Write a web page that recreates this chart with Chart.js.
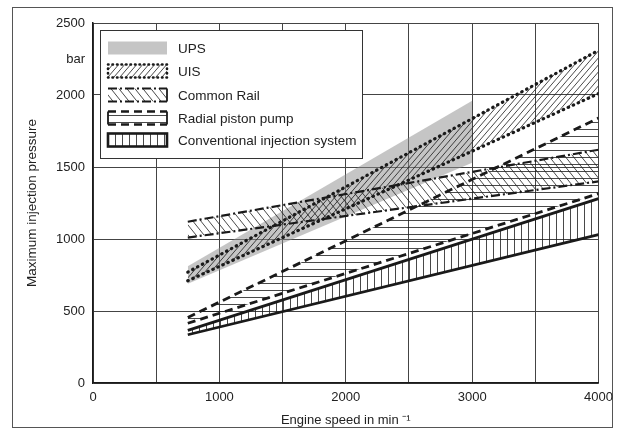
<!DOCTYPE html>
<html>
<head>
<meta charset="utf-8">
<script src="https://cdn.jsdelivr.net/npm/chart.js@4.4.0/dist/chart.umd.min.js"></script>
<style>
  html, body { margin: 0; padding: 0; background: #fff; }
  #wrap { width: 620px; height: 433px; }
</style>
</head>
<body>
<div id="wrap"><canvas id="pressureChart" width="620" height="433"></canvas></div>
<script>
// engine speed (min^-1) where the bands start and end
const bandSpeed = [750, 4000];
const upsSpeed = [750, 3000];

// maximum injection pressure (bar), lower and upper edge of each band
const upsLow = [690, 1530];
const upsHigh = [810, 1960];
const uisLow = [710, 2010];
const uisHigh = [770, 2310];
const crLow = [1010, 1400];
const crHigh = [1120, 1620];
const rppLow = [415, 1315];
const rppHigh = [455, 1840];
const convLow = [335, 1030];
const convHigh = [365, 1280];

const xTicks = [0, 1000, 2000, 3000, 4000];
const yTicks = [0, 500, 1000, 1500, 2000, 2500];
const unitLabel = 'bar';
const unitValue = 2250;

const legendNames = ['UPS', 'UIS', 'Common Rail', 'Radial piston pump', 'Conventional injection system'];

const ink = '#1a1a1a';
const hatchInk = 'rgba(30,30,30,0.9)';
const upsGray = 'rgba(140,140,140,0.5)';

function makeHatch(kind, w, h) {
  const c = document.createElement('canvas');
  c.width = w; c.height = h;
  const g = c.getContext('2d');
  g.strokeStyle = hatchInk;
  g.lineWidth = 0.9;
  g.beginPath();
  if (kind === 'h') {
    g.moveTo(0, h / 2); g.lineTo(w, h / 2);
  } else if (kind === 'v') {
    g.moveTo(w / 2, 0); g.lineTo(w / 2, h);
  } else {
    for (let k = -1; k <= 1; k++) {
      if (kind === '/') {
        g.moveTo(k * w - w, 2 * h); g.lineTo(k * w + 2 * w, -h);
      } else {
        g.moveTo(k * w - w, -h); g.lineTo(k * w + 2 * w, 2 * h);
      }
    }
  }
  g.stroke();
  return g.createPattern(c, 'repeat');
}

const uisHatch = makeHatch('/', 6, 7);
const crHatch = makeHatch('\\', 8, 10);
const rppHatch = makeHatch('h', 8, 7);
const convHatch = makeHatch('v', 7, 8);

function pts(xs, ys) {
  return xs.map((x, i) => ({ x: x, y: ys[i] }));
}

const styles = {
  uis: { dash: [0.5, 5], width: 3.2, cap: 'round' },
  cr: { dash: [9, 3, 2, 3], width: 2.2, cap: 'butt' },
  rpp: { dash: [8, 5], width: 2.8, cap: 'butt' },
  conv: { dash: [], width: 2.8, cap: 'butt' }
};

function edge(label, xs, ys, st, fill, bg) {
  return {
    label: label,
    data: pts(xs, ys),
    borderColor: st ? ink : 'rgba(0,0,0,0)',
    borderWidth: st ? st.width : 0,
    borderDash: st ? st.dash : [],
    borderCapStyle: st ? st.cap : 'butt',
    backgroundColor: bg || 'rgba(0,0,0,0)',
    fill: fill,
    pointRadius: 0,
    tension: 0
  };
}

const datasets = [
  edge('Conventional low', bandSpeed, convLow, styles.conv, false),
  edge('Conventional injection system', bandSpeed, convHigh, styles.conv, '-1', convHatch),
  edge('Radial low', bandSpeed, rppLow, styles.rpp, false),
  edge('Radial piston pump', bandSpeed, rppHigh, styles.rpp, '-1', rppHatch),
  edge('CR low', bandSpeed, crLow, styles.cr, false),
  edge('Common Rail', bandSpeed, crHigh, styles.cr, '-1', crHatch),
  edge('UIS low', bandSpeed, uisLow, styles.uis, false),
  edge('UIS', bandSpeed, uisHigh, styles.uis, '-1', uisHatch),
  edge('UPS low', upsSpeed, upsLow, null, false),
  edge('UPS', upsSpeed, upsHigh, null, '-1', upsGray)
];

const frameAndLegend = {
  id: 'frameAndLegend',
  beforeDraw(chart) {
    const ctx = chart.ctx;
    ctx.save();
    ctx.fillStyle = '#fff';
    ctx.fillRect(0, 0, chart.width, chart.height);
    ctx.strokeStyle = '#555';
    ctx.lineWidth = 1;
    ctx.strokeRect(12.5, 7.5, 600, 420);
    ctx.restore();
  },
  afterDraw(chart) {
    const ctx = chart.ctx;
    ctx.save();
    // legend box
    ctx.fillStyle = '#fff';
    ctx.fillRect(100, 30, 262, 128);
    ctx.strokeStyle = '#333';
    ctx.lineWidth = 1;
    ctx.strokeRect(100.5, 30.5, 262, 128);

    const sx = 108, sw = 59, sh = 13;
    const rows = [48, 71, 95, 118, 140];
    rows.forEach((cy, i) => {
      const top = cy - sh / 2;
      ctx.save();
      ctx.strokeStyle = ink;
      if (i === 0) {
        ctx.fillStyle = upsGray;
        ctx.fillRect(sx, top, sw, sh);
      } else if (i === 1) {
        ctx.fillStyle = uisHatch;
        ctx.fillRect(sx, top, sw, sh);
        ctx.lineWidth = 2.6; ctx.setLineDash([0.5, 4]); ctx.lineCap = 'round';
        ctx.strokeRect(sx, top, sw, sh);
      } else if (i === 2) {
        ctx.fillStyle = crHatch;
        ctx.fillRect(sx, top, sw, sh);
        ctx.lineWidth = 2.2; ctx.setLineDash(styles.cr.dash);
        ctx.beginPath();
        ctx.moveTo(sx, top); ctx.lineTo(sx + sw, top);
        ctx.moveTo(sx, top + sh); ctx.lineTo(sx + sw, top + sh);
        ctx.stroke();
        ctx.setLineDash([]); ctx.lineWidth = 1.8;
        ctx.beginPath(); ctx.moveTo(sx + sw, top); ctx.lineTo(sx + sw, top + sh); ctx.stroke();
      } else if (i === 3) {
        ctx.fillStyle = rppHatch;
        ctx.fillRect(sx, top, sw, sh);
        ctx.lineWidth = 2.6; ctx.setLineDash(styles.rpp.dash);
        ctx.beginPath();
        ctx.moveTo(sx, top); ctx.lineTo(sx + sw, top);
        ctx.moveTo(sx, top + sh); ctx.lineTo(sx + sw, top + sh);
        ctx.stroke();
        ctx.setLineDash([]); ctx.lineWidth = 1.8;
        ctx.beginPath();
        ctx.moveTo(sx, top); ctx.lineTo(sx, top + sh);
        ctx.moveTo(sx + sw, top); ctx.lineTo(sx + sw, top + sh);
        ctx.stroke();
      } else {
        ctx.fillStyle = convHatch;
        ctx.fillRect(sx, top, sw, sh);
        ctx.lineWidth = 2.6;
        ctx.strokeRect(sx, top, sw, sh);
      }
      ctx.restore();
      ctx.fillStyle = '#222';
      ctx.font = '13.5px Arial, "Liberation Sans", sans-serif';
      ctx.textBaseline = 'middle';
      ctx.fillText(legendNames[i], 178, cy + 1);
    });
    ctx.restore();
  }
};

const tickFont = { family: 'Arial, "Liberation Sans", sans-serif', size: 13 };

new Chart(document.getElementById('pressureChart'), {
  type: 'line',
  data: { datasets: datasets },
  options: {
    responsive: false,
    animation: false,
    layout: { padding: { left: 0, right: 20, top: 23, bottom: 0 } },
    plugins: {
      legend: { display: false },
      tooltip: { enabled: false }
    },
    scales: {
      x: {
        type: 'linear',
        min: 0,
        max: 4000,
        afterBuildTicks(scale) {
          const t = [];
          for (let v = 0; v <= 4000; v += 500) t.push({ value: v });
          scale.ticks = t;
        },
        afterFit(scale) { scale.height = 50; },
        ticks: {
          color: '#222',
          font: tickFont,
          padding: 7,
          maxRotation: 0,
          callback: v => (xTicks.includes(v) ? String(v) : '')
        },
        grid: { color: '#444', lineWidth: 1, drawTicks: false },
        border: { color: ink, width: 1.5 },
        title: {
          display: true,
          text: 'Engine speed in min \u207B\u00B9',
          color: '#222',
          font: tickFont,
          padding: { top: 0, bottom: 5 }
        }
      },
      y: {
        type: 'linear',
        min: 0,
        max: 2500,
        afterBuildTicks(scale) {
          const t = yTicks.map(v => ({ value: v }));
          t.push({ value: unitValue });
          t.sort((a, b) => a.value - b.value);
          scale.ticks = t;
        },
        afterFit(scale) { scale.width = 93; },
        ticks: {
          color: '#222',
          font: tickFont,
          padding: 8,
          callback: v => (v === unitValue ? unitLabel : String(v))
        },
        grid: {
          color: ctx => (ctx.tick && ctx.tick.value === unitValue ? 'rgba(0,0,0,0)' : '#444'),
          lineWidth: 1,
          drawTicks: false
        },
        border: { color: ink, width: 1.5 },
        title: {
          display: true,
          text: 'Maximum injection pressure',
          color: '#222',
          font: { family: 'Arial, "Liberation Sans", sans-serif', size: 13.5 },
          padding: { top: 24, bottom: 0 }
        }
      }
    }
  },
  plugins: [frameAndLegend]
});
</script>
</body>
</html>
